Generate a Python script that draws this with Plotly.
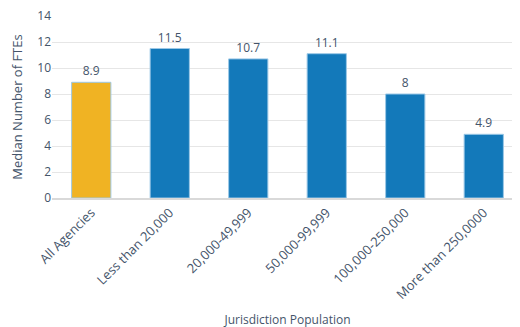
import plotly.graph_objects as go

categories = [
    "All Agencies",
    "Less than 20,000",
    "20,000-49,999",
    "50,000-99,999",
    "100,000-250,000",
    "More than 250,0000",
]
values = [8.9, 11.5, 10.7, 11.1, 8, 4.9]
labels = ["8.9", "11.5", "10.7", "11.1", "8", "4.9"]
colors = ["#F0B323", "#1379BA", "#1379BA", "#1379BA", "#1379BA", "#1379BA"]

fig = go.Figure(
    go.Bar(
        x=categories,
        y=values,
        text=labels,
        textposition="outside",
        textfont=dict(size=12, color="#44546A"),
        marker=dict(color=colors, line=dict(color="#9CC8E6", width=1)),
        width=0.5,
        cliponaxis=False,
    )
)

# page has an 8px body margin, so offsets are trimmed by 8
fig.update_layout(
    width=520,
    height=327,
    margin=dict(l=44, r=5, t=8, b=137),
    plot_bgcolor="white",
    paper_bgcolor="white",
    font=dict(family="Open Sans", size=12, color="#595959"),
    showlegend=False,
)

fig.update_xaxes(
    tickangle=-45,
    tickfont=dict(size=13, color="#44546A"),
    showline=True,
    linecolor="#D9D9D9",
    linewidth=2,
    ticks="",
    automargin=False,
    title=dict(text="Jurisdiction Population", font=dict(size=12, color="#44546A"), standoff=14),
)
fig.update_yaxes(
    range=[0, 14],
    dtick=2,
    gridcolor="#E6E6E6",
    zeroline=False,
    tickfont=dict(size=12, color="#44546A"),
    ticklabeloverflow="allow",
    automargin=False,
    title=dict(text="Median Number of FTEs", font=dict(size=13, color="#44546A"), standoff=15),
)

fig.write_html("out.html")
